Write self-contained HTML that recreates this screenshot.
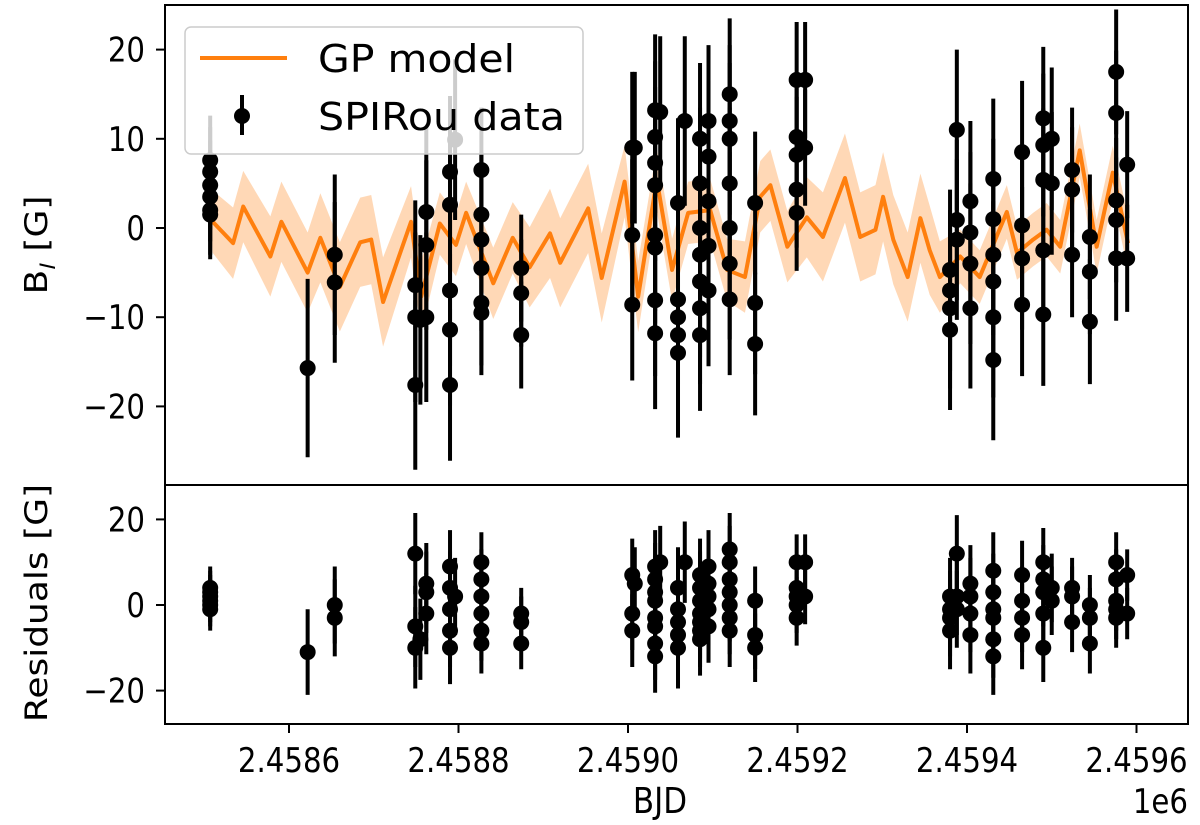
<!DOCTYPE html>
<html><head><meta charset="utf-8"><style>
body{margin:0;background:#fff;}
svg text{font-family:"DejaVu Sans","Liberation Sans",sans-serif;fill:#000;}
</style></head><body>
<svg id="chart" width="1200" height="825" viewBox="0 0 1200 825" xmlns="http://www.w3.org/2000/svg" style="position:absolute;left:0;top:0">
<g id="top-plot"></g>
<g id="bot-plot"></g>
<g id="axes"></g>
</svg>
<script>
// GP model knots (BJD - 2458000)
const modelT=[507,510,534,546,578,591,622,637,660,684,697,711,744,756,778,797,809,841,864,884,908,920,953,969,996,1012,1034,1052,1071,1097,1117,1138,1156,1168,1188,1211,1230,1256,1274,1292,1301,1313,1330,1345,1356,1368,1392,1415,1447,1459,1478,1494,1510,1533,1553,1572,1590];
const modelV=[3,0.7,-1.7,2.4,-3.2,0.7,-5,-1.1,-6.6,-1.6,-1.3,-8.3,0.7,-7.7,0.5,-1.9,1.7,-6.2,-1.1,-4.4,-0.6,-3.9,2.2,-5.6,5.2,-7.7,5.4,-4.7,1.7,2,-4.7,-5.5,3.5,4.8,-2.1,1.2,-1,5.6,-1,-0.2,3.5,-1.3,-5.5,1.1,-2.5,-5.5,-3.2,-5.5,1.8,-2.8,-1.3,-0.2,-2.1,8.7,-2.1,6.2,-1.7];
const modelSig=[3,3.5,4,4,4.5,4.5,4.5,5,5,5,5,5,4,4,3.5,3.5,3.5,4,4,4.5,5,5,5,5,4,4,3.5,3.5,3.5,3.5,3.5,4,4,4,4,4.5,5,5,5,5,5,5,5,5,5,4,3,3,3,3,3,3,3,3,3,3,3];
// SPIRou data
const dataT=[507,507,507,507,507,507,622,654,654,749,749,749,755,762,762,762,790,790,790,790,790,796,827,827,827,827,827,827,874,874,874,1005,1005,1005,1008,1032,1032,1032,1032,1032,1032,1032,1032,1038,1059,1059,1059,1059,1059,1067,1085,1085,1085,1085,1085,1085,1085,1095,1095,1095,1095,1095,1120,1120,1120,1120,1120,1120,1120,1150,1150,1150,1199,1199,1199,1199,1199,1209,1209,1380,1380,1380,1380,1388,1388,1388,1404,1404,1404,1404,1431,1431,1431,1431,1431,1431,1465,1465,1465,1465,1490,1490,1490,1490,1490,1500,1500,1524,1524,1524,1545,1545,1545,1576,1576,1576,1576,1576,1589,1589];
const dataV=[7.6,6.3,4.8,3.5,2.0,1.5,-15.7,-3,-6.1,-6.4,-10,-17.6,-10.3,1.8,-1.9,-10,6.3,2.6,-7,-11.4,-17.6,9.9,6.5,1.5,-1.3,-4.5,-8.4,-9.5,-4.5,-7.3,-12,9,-0.8,-8.6,9,13.2,10.2,7.3,4.8,-0.8,-2.2,-8.1,-11.8,13,2.8,-8,-10,-12,-14,12,10,5,0,-3,-6,-9,-12,12,8,3,-2,-7,15,12,10,5,0,-4,-8,2.8,-8.4,-13,16.6,10.2,8.2,4.3,1.7,16.6,9,-4.7,-7,-9,-11.4,11,0.9,-1.3,3,-0.5,-4,-9,5.5,1,-3,-6,-10,-14.8,8.5,0.3,-3.4,-8.6,12.3,9.3,5.4,-2.5,-9.7,10,5,6.5,4.3,-3,-1,-4.9,-10.5,17.5,12.9,3.1,0.9,-3.4,7.1,-3.4];
const dataErr=[5,5,5,5,5,5,10,9,9,9.5,9.5,9.5,9.5,9.5,9.5,9.5,8.5,8.5,8.5,8.5,8.5,9,7,7,7,7,7,7,6,6,6,8.5,8.5,8.5,8.5,8.5,8.5,8.5,8.5,8.5,8.5,8.5,8.5,8.5,9.5,9.5,9.5,9.5,9.5,9.5,8.5,8.5,8.5,8.5,8.5,8.5,8.5,8.5,8.5,8.5,8.5,8.5,8.5,8.5,8.5,8.5,8.5,8.5,8.5,8,8,8,6.5,6.5,6.5,6.5,6.5,6.5,6.5,9,9,9,9,9,9,9,9,9,9,9,9,9,9,9,9,9,8,8,8,8,8,8,8,8,8,8,8,7,7,7,7,7,7,7,7,7,7,7,6,6];
const resid=[4,3,2,1,0,-1,-11,0,-3,12,-5,-10,-8,5,3,-2,9,4,-1,-6,-10,2,10,6,2,-2,-6,-9,-2,-4,-9,7,-2,-6,5,9,6,3,1,-3,-5,-9,-12,10,4,-1,-4,-7,-10,10,7,4,1,-2,-4,-6,-8,9,5,2,-1,-5,13,10,6,3,0,-3,-6,1,-7,-10,10,4,2,0,-3,10,2,2,-1,-3,-6,12,2,-1,5,2,-2,-7,8,3,-1,-3,-8,-12,7,1,-3,-7,10,6,3,-2,-10,4,1,4,2,-4,0,-3,-9,10,6,1,-1,-3,7,-2];
const xTicks=[2458600,2458800,2459000,2459200,2459400,2459600];
const xTickLabels=["2.4586","2.4588","2.4590","2.4592","2.4594","2.4596"];
const yTicksTop=[20,10,0,-10,-20];
const yTicksBot=[20,0,-20];

(function(){
const NS="http://www.w3.org/2000/svg";
const L=165,R=1188,T=5,MID=485,B=724;
function X(t){return 289+(t-600)*0.8475;}
function XB(b){return X(b-2458000);}
function YT(v){return 228-v*8.92;}
function YB(v){return 605-v*4.28;}
function mk(tag,attrs,parent){const e=document.createElementNS(NS,tag);for(const k in attrs)e.setAttribute(k,attrs[k]);parent.appendChild(e);return e;}
function label(x,y,anchor,str,parent){const t=mk('text',{x:0,y:0,'text-anchor':anchor,'font-size':34,transform:'translate('+x+','+y+') scale(0.86,1)'},parent);t.textContent=str;return t;}
const topG=document.getElementById('top-plot'),botG=document.getElementById('bot-plot'),ax=document.getElementById('axes');
const svg=document.getElementById('chart');
const defs=mk('defs',{},svg);
const cp=mk('clipPath',{id:'ct'},defs);mk('rect',{x:L,y:T,width:R-L,height:MID-T},cp);
const cb=mk('clipPath',{id:'cb'},defs);mk('rect',{x:L,y:MID,width:R-L,height:B-MID},cb);
topG.setAttribute('clip-path','url(#ct)');botG.setAttribute('clip-path','url(#cb)');
let up=[],dn=[];
for(let i=0;i<modelT.length;i++){up.push(X(modelT[i])+','+YT(modelV[i]+modelSig[i]));dn.unshift(X(modelT[i])+','+YT(modelV[i]-modelSig[i]));}
const band=mk('polygon',{points:up.concat(dn).join(' '),fill:'#ff7f0e','fill-opacity':0.3,stroke:'none','stroke-linejoin':'round'},topG);


const line=mk('polyline',{points:modelT.map((t,i)=>X(t)+','+YT(modelV[i])).join(' '),fill:'none',stroke:'#ff7f0e','stroke-width':4,'stroke-linejoin':'round'},topG);


for(let i=0;i<dataT.length;i++){
  const x=X(dataT[i]);const e=dataErr[i]||8;
  const g=mk('g',{},topG);
  
  
  mk('line',{x1:x,x2:x,y1:YT(dataV[i]+e),y2:YT(dataV[i]-e),stroke:'#000','stroke-width':4},g);
  mk('circle',{cx:x,cy:YT(dataV[i]),r:8,fill:'#000'},g);
  const g2=mk('g',{},botG);
  
  
  mk('line',{x1:x,x2:x,y1:YB(resid[i]+e),y2:YB(resid[i]-e),stroke:'#000','stroke-width':4},g2);
  mk('circle',{cx:x,cy:YB(resid[i]),r:8,fill:'#000'},g2);
}
mk('rect',{x:L,y:T,width:R-L,height:MID-T,fill:'none',stroke:'#000','stroke-width':2},ax);
mk('rect',{x:L,y:MID,width:R-L,height:B-MID,fill:'none',stroke:'#000','stroke-width':2},ax);
yTicksTop.forEach(v=>{const y=YT(v);mk('line',{x1:L-9,x2:L,y1:y,y2:y,stroke:'#000','stroke-width':2},ax);
  const t=label(L-20,y+12,'end',(v<0?'\u2212'+(-v):String(v)),ax);
  
  });
yTicksBot.forEach(v=>{const y=YB(v);mk('line',{x1:L-9,x2:L,y1:y,y2:y,stroke:'#000','stroke-width':2},ax);
  const t=label(L-20,y+12,'end',(v<0?'\u2212'+(-v):String(v)),ax);
  
  });
xTicks.forEach((b,i)=>{const x=XB(b);mk('line',{x1:x,x2:x,y1:B,y2:B+9,stroke:'#000','stroke-width':2},ax);
  const t=label(x,B+48,'middle',xTickLabels[i],ax);
  
  });
})();
</script>
<svg width="1200" height="825" style="position:absolute;left:0;top:0" xmlns="http://www.w3.org/2000/svg">
<g>
<rect x="185" y="27" width="398" height="127" rx="6" fill="#fff" fill-opacity="0.8" stroke="#ccc" stroke-width="1.5"/>
<line x1="200" x2="287" y1="58" y2="58" stroke="#ff7f0e" stroke-width="4"/>
<text x="318" y="72" font-size="38" textLength="197" lengthAdjust="spacingAndGlyphs" font-family="DejaVu Sans, Liberation Sans, sans-serif">GP model</text>
<line x1="242" x2="242" y1="95" y2="135" stroke="#000" stroke-width="4"/>
<circle cx="242" cy="116" r="8" fill="#000"/>
<text x="318" y="130" font-size="38" textLength="247" lengthAdjust="spacingAndGlyphs" font-family="DejaVu Sans, Liberation Sans, sans-serif">SPIRou data</text>
</g>
<text x="0" y="0" transform="translate(47,245) rotate(-90) scale(1,0.86)" text-anchor="middle" font-size="36" font-family="DejaVu Sans, Liberation Sans, sans-serif">B<tspan font-size="24" font-style="italic" dy="9">l</tspan><tspan dy="-9"> [G]</tspan></text>
<text x="0" y="0" transform="translate(47,603) rotate(-90) scale(1,0.86)" text-anchor="middle" font-size="36" font-family="DejaVu Sans, Liberation Sans, sans-serif">Residuals [G]</text>
<text x="0" y="0" transform="translate(660,813) scale(0.86,1)" text-anchor="middle" font-size="36" font-family="DejaVu Sans, Liberation Sans, sans-serif">BJD</text>
<text x="0" y="0" transform="translate(1188,813) scale(0.86,1)" text-anchor="end" font-size="34" font-family="DejaVu Sans, Liberation Sans, sans-serif">1e6</text>
</svg>
</body></html>
